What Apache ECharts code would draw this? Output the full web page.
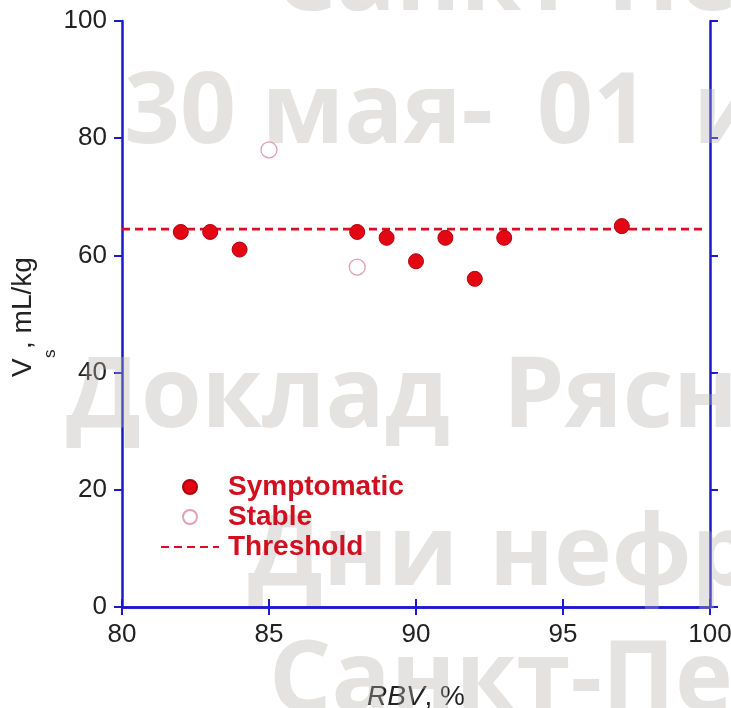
<!DOCTYPE html>
<html>
<head>
<meta charset="utf-8">
<script src="https://cdn.jsdelivr.net/npm/echarts@6/dist/echarts.min.js"></script>
<style>html,body{margin:0;padding:0;background:#fff}#c{width:731px;height:708px}</style>
</head>
<body>
<div id="c"></div>
<script>
// Data
const symptomaticX = [82, 83, 84, 88, 89, 90, 91, 92, 93, 97];
const symptomaticY = [64, 64, 61, 64, 63, 59, 63, 56, 63, 65];
const stableX = [85, 88];
const stableY = [78, 58];
const thresholdValue = 64.5;
const thresholdRange = [80, 99.8];
const xTicks = [80, 85, 90, 95, 100];
const yTicks = [0, 20, 40, 60, 80, 100];
const legendNames = ['Symptomatic', 'Stable', 'Threshold'];
const watermarkWords = ['Санкт-Пе', '30 мая-', '01', 'и', 'Доклад', 'Рясн', 'Дни', 'нефр', 'Санкт-Пе'];
const watermarkAt = [[274, 15], [124, 148], [537, 148], [693, 148], [66, 432], [503, 432], [248, 590], [489, 590], [269, 716]];

const AXIS = '#1a1acd';
const RED = '#e30613';
const FONT = '"Liberation Sans", Arial, sans-serif';

const chart = echarts.init(document.getElementById('c'), null, {renderer: 'canvas'});

const axisCommon = {
  axisLine: {show: true, lineStyle: {color: AXIS, width: 2.5}},
  axisTick: {show: true, inside: false, length: 8, lineStyle: {color: AXIS, width: 2}},
  splitLine: {show: false}
};

const WM_SIZE = 98;
const watermark = watermarkWords.map((t, i) => ({
  type: 'text', silent: true, z: 5,
  x: watermarkAt[i][0], y: watermarkAt[i][1] - WM_SIZE * 0.34,
  style: {
    text: t, fill: 'rgba(180,178,172,0.36)',
    font: 'bold ' + WM_SIZE + 'px "Open Sans", "DejaVu Sans", sans-serif',
    align: 'left', verticalAlign: 'middle'
  }
}));

const yTitle = {
  type: 'group', x: 33, y: 377, rotation: Math.PI / 2, silent: true, z: 4,
  children: [
    {type: 'text', x: 0, y: -9.5, style: {text: 'V', font: '28px ' + FONT, fill: '#222', align: 'left', verticalAlign: 'middle'}},
    {type: 'text', x: 19, y: 17, style: {text: 's', font: '17px ' + FONT, fill: '#222', align: 'left', verticalAlign: 'middle'}},
    {type: 'text', x: 28, y: -9.5, style: {text: ', mL/kg', font: '28px ' + FONT, fill: '#222', align: 'left', verticalAlign: 'middle'}}
  ]
};

const option = {
  backgroundColor: '#fff',
  animation: false,
  grid: {left: 122, right: 21, top: 21, bottom: 101, containLabel: false, outerBoundsMode: 'none'},
  xAxis: [
    Object.assign({}, axisCommon, {
      type: 'value', position: 'bottom',
      min: xTicks[0], max: xTicks[xTicks.length - 1], interval: xTicks[1] - xTicks[0],
      axisLabel: {show: true, margin: 15, fontSize: 26, color: '#222', fontFamily: FONT},
      name: '{i|RBV}{n|, %}', nameLocation: 'middle', nameGap: 76,
      nameTextStyle: {
        fontFamily: FONT, fontSize: 28, color: '#222',
        rich: {i: {fontStyle: 'italic', fontSize: 28, fontFamily: FONT, color: '#222'},
               n: {fontSize: 28, fontFamily: FONT, color: '#222'}}
      }
    }),
    Object.assign({}, axisCommon, {
      type: 'value', position: 'top',
      min: xTicks[0], max: xTicks[xTicks.length - 1], interval: xTicks[1] - xTicks[0],
      axisLabel: {show: false}
    })
  ],
  yAxis: [
    Object.assign({}, axisCommon, {
      type: 'value', position: 'left',
      min: yTicks[0], max: yTicks[yTicks.length - 1], interval: yTicks[1] - yTicks[0],
      axisLabel: {show: true, margin: 15, fontSize: 26, color: '#222', fontFamily: FONT}
    }),
    Object.assign({}, axisCommon, {
      type: 'value', position: 'right',
      min: yTicks[0], max: yTicks[yTicks.length - 1], interval: yTicks[1] - yTicks[0],
      axisLabel: {show: false}
    })
  ],
  legend: {
    orient: 'vertical', left: 160, top: 473, padding: 0,
    itemWidth: 58, itemHeight: 14, itemGap: 2,
    textStyle: {color: '#d0101e', fontWeight: 'bold', fontSize: 28, lineHeight: 28, fontFamily: FONT, padding: [0, 0, 0, 4]},
    data: [legendNames[0], legendNames[1], {name: legendNames[2], itemStyle: {opacity: 0}}],
    z: 6
  },
  series: [
    {
      name: legendNames[2], type: 'line', xAxisIndex: 0, yAxisIndex: 0,
      data: thresholdRange.map(x => [x, thresholdValue]),
      symbol: 'none', silent: true,
      lineStyle: {color: '#dc0c22', width: 2.8, type: [8, 5]},
      itemStyle: {color: '#dc0c22'},
      z: 1
    },
    {
      name: legendNames[0], type: 'scatter', xAxisIndex: 0, yAxisIndex: 0,
      data: symptomaticX.map((x, i) => [x, symptomaticY[i]]),
      symbol: 'circle', symbolSize: 15,
      itemStyle: {color: RED, borderColor: '#b00010', borderWidth: 1, opacity: 1},
      z: 3
    },
    {
      name: legendNames[1], type: 'scatter', xAxisIndex: 0, yAxisIndex: 0,
      data: stableX.map((x, i) => [x, stableY[i]]),
      symbol: 'circle', symbolSize: 16,
      itemStyle: {color: '#ffffff', borderColor: '#e3a0b4', borderWidth: 1.3, opacity: 1},
      z: 3
    }
  ],
  graphic: [yTitle].concat(watermark)
};

chart.setOption(option);
</script>
</body>
</html>
